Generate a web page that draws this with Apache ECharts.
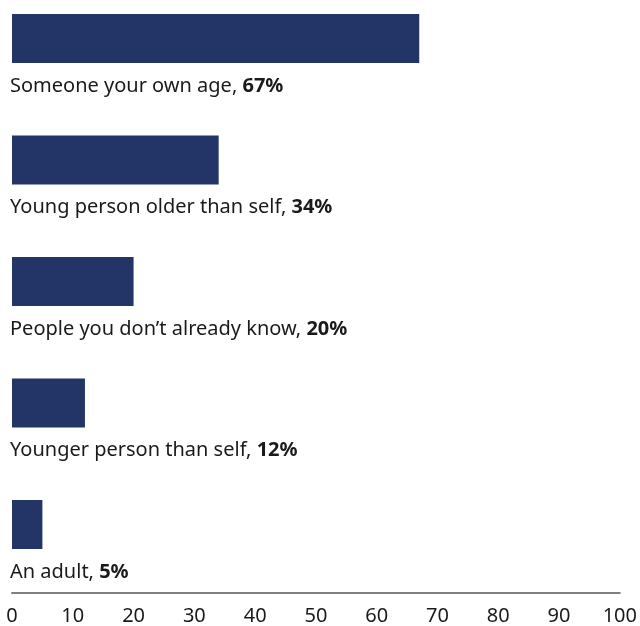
<!DOCTYPE html>
<html><head><meta charset="utf-8">
<script src="https://cdn.jsdelivr.net/npm/echarts@6/dist/echarts.min.js"></script>
<style>html,body{margin:0;padding:0;background:#fff}#c{width:640px;height:626px}</style>
</head><body><div id="c"></div>
<script>
const categories = ["Someone your own age", "Young person older than self", "People you don\u2019t already know", "Younger person than self", "An adult"];
const values = [67, 34, 20, 12, 5];
const xTicks = [0, 10, 20, 30, 40, 50, 60, 70, 80, 90, 100];

const chart = echarts.init(document.getElementById('c'), null, {renderer: 'canvas'});
const FONT = 'Noto Sans';
const FS = 20;
chart.setOption({
  animation: false,
  // rows centred at 38.5 + 121.5k px (boundaryGap false => first/last row on grid edges)
  grid: {left: 12, right: 19, top: 38.5, height: 486, containLabel: false},
  xAxis: {
    type: 'value', min: 0, max: 100, interval: 10, offset: 68.5,
    axisLine: {show: true, lineStyle: {color: '#808080', width: 2}},
    axisTick: {show: false},
    splitLine: {show: false},
    axisLabel: {margin: 13, color: '#1a1a1a', fontSize: FS, fontFamily: FONT,
      formatter: v => xTicks.includes(v) ? String(v) : ''}
  },
  yAxis: {
    type: 'category', data: categories, inverse: true, boundaryGap: false,
    axisLine: {show: false}, axisTick: {show: false}, axisLabel: {show: false}, splitLine: {show: false}
  },
  series: [{
    type: 'bar', barWidth: 49, data: values,
    itemStyle: {color: '#233467'},
    label: {
      show: true, position: [-2, 72], align: 'left', verticalAlign: 'middle',
      formatter: p => p.name + ', {b|' + p.value + '%}',
      color: '#1a1a1a', fontSize: FS, fontFamily: FONT,
      rich: {b: {fontWeight: 'bold', color: '#1a1a1a', fontSize: FS, fontFamily: FONT}}
    }
  }]
});
</script></body></html>
